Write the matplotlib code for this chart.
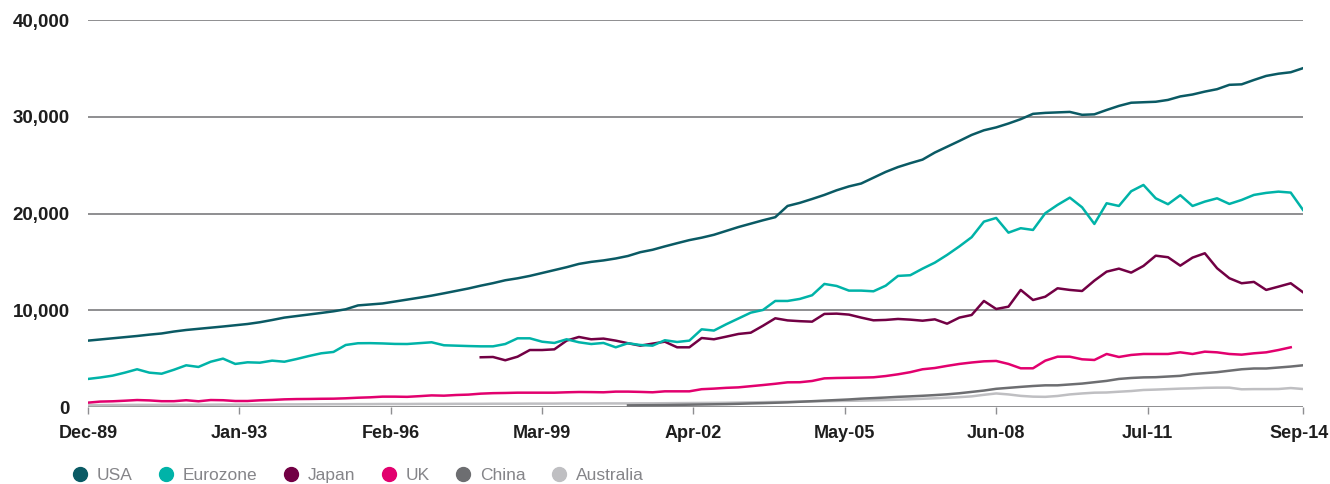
import numpy as np
import matplotlib.pyplot as plt
from matplotlib.lines import Line2D
from matplotlib.transforms import ScaledTranslation

# quarterly values, Dec-89 .. Sep-14 (100 quarters)
usa = [6860, 6980, 7100, 7220,
       7340, 7480, 7600, 7800,
       7960, 8080, 8200, 8320,
       8450, 8580, 8760, 8990,
       9240, 9400, 9560, 9720,
       9890, 10100, 10500, 10600,
       10700, 10900, 11100, 11300,
       11510, 11750, 12000, 12250,
       12540, 12800, 13100, 13300,
       13550, 13850, 14150, 14450,
       14790, 15000, 15150, 15350,
       15610, 16000, 16250, 16600,
       16930, 17250, 17500, 17800,
       18200, 18600, 18950, 19300,
       19620, 20780, 21100, 21500,
       21920, 22400, 22800, 23100,
       23700, 24300, 24800, 25200,
       25570, 26300, 26900, 27500,
       28120, 28600, 28900, 29300,
       29750, 30300, 30400, 30450,
       30500, 30200, 30250, 30700,
       31120, 31450, 31500, 31550,
       31740, 32100, 32300, 32600,
       32850, 33300, 33350, 33800,
       34220, 34450, 34600, 35020]

eurozone = [2900, 3050, 3240, 3550, 3900, 3550, 3440, 3850, 4310, 4140,
            4680, 5000, 4450, 4620, 4580, 4790, 4680, 4960, 5270, 5550,
            5690, 6410, 6590, 6600, 6570, 6520, 6510, 6600, 6690, 6380,
            6340, 6300, 6270, 6270, 6510, 7100, 7100, 6750, 6620, 7000,
            6690, 6510, 6620, 6170, 6590, 6410, 6340, 6900, 6720, 6860,
            8030, 7900, 8550, 9150, 9750, 10030, 10960, 10960, 11170, 11550,
            12720, 12510, 12030, 12030, 11960, 12540, 13550, 13620, 14300, 14920,
            15720, 16600, 17550, 19160, 19540, 18020, 18480, 18300, 20030, 20890,
            21640, 20640, 18920, 21060, 20780, 22300, 22950, 21570, 20960, 21890,
            20780, 21230, 21570, 20990, 21400, 21920, 22130, 22260, 22160, 20370]

japan = [np.nan] * 32 + [
    5140, 5170, 4830, 5200, 5890, 5890, 5960, 6860, 7240, 7000,
    7070, 6860, 6590, 6340, 6550, 6750, 6170, 6170, 7130, 7000,
    7270, 7550, 7680, 8400, 9170, 8950, 8870, 8820, 9620, 9650,
    9550, 9240, 8960, 9000, 9100, 9030, 8920, 9060, 8610, 9240,
    9510, 10960, 10130, 10370, 12100, 11060, 11400, 12270, 12100, 11990,
    13060, 13990, 14300, 13890, 14580, 15640, 15480, 14610, 15440, 15890,
    14340, 13310, 12790, 12930, 12100, 12440, 12790, 11860]

uk = [450, 560, 590, 650, 720, 680, 600, 600, 700, 590,
      720, 700, 620, 620, 690, 730, 790, 820, 830, 850,
      860, 900, 960, 1000, 1070, 1070, 1050, 1120, 1200, 1170,
      1240, 1280, 1380, 1430, 1450, 1480, 1480, 1480, 1480, 1520,
      1550, 1540, 1520, 1590, 1590, 1560, 1520, 1620, 1620, 1620,
      1840, 1900, 1980, 2030, 2150, 2270, 2400, 2550, 2560, 2690,
      2960, 3000, 3020, 3040, 3070, 3200, 3380, 3600, 3900, 4030,
      4250, 4450, 4600, 4720, 4760, 4450, 4000, 4000, 4790, 5200,
      5200, 4930, 4860, 5480, 5170, 5380, 5480, 5480, 5480, 5650,
      5480, 5720, 5650, 5480, 5410, 5550, 5650, 5890, 6170, np.nan]

china = [np.nan] * 44 + [
    170, 180, 190, 200, 220, 240, 260, 280, 300, 330,
    370, 400, 440, 480, 540, 600, 660, 720, 780, 860,
    920, 980, 1050, 1100, 1160, 1230, 1310, 1420, 1560, 1700,
    1880, 1980, 2080, 2170, 2240, 2240, 2330, 2420, 2560, 2700,
    2900, 3000, 3060, 3080, 3150, 3220, 3400, 3500, 3600, 3750,
    3900, 3980, 3980, 4080, 4180, 4310]

australia = [200, 200, 210, 210, 220, 220, 220, 230, 230, 240,
             240, 250, 250, 250, 260, 260, 270, 270, 280, 280,
             290, 290, 300, 300, 310, 310, 310, 320, 320, 320,
             330, 330, 330, 340, 340, 340, 350, 350, 350, 360,
             360, 360, 370, 370, 370, 380, 380, 390, 400, 410,
             420, 430, 440, 460, 480, 500, 520, 540, 560, 580,
             600, 620, 640, 660, 690, 720, 760, 800, 850, 900,
             960, 1020, 1100, 1260, 1400, 1300, 1150, 1070, 1050, 1140,
             1300, 1400, 1480, 1500, 1580, 1650, 1760, 1800, 1850, 1900,
             1930, 1980, 2000, 2000, 1830, 1850, 1850, 1860, 1960, 1860]

tick_labels = ["Dec-89", "Jan-93", "Feb-96", "Mar-99", "Apr-02",
               "May-05", "Jun-08", "Jul-11", "Sep-14"]
tick_months = [0, 37, 74, 111, 148, 185, 222, 259, 297]

names = ["USA", "Eurozone", "Japan", "UK", "China", "Australia"]
colors = ["#0a5a64", "#00b3a8", "#720044", "#e2006e", "#6d6e71", "#bfbfc2"]
series = [usa, eurozone, japan, uk, china, australia]

months = np.arange(len(usa)) * 3

plt.rcParams['font.family'] = ['Liberation Sans', 'DejaVu Sans']

fig = plt.figure(figsize=(13.3, 4.84), dpi=100)
ax = fig.add_axes([88 / 1330, 1 - 407 / 484, (1303 - 88) / 1330, (407 - 20) / 484])

# draw back to front so USA sits on top
for name, col, vals in reversed(list(zip(names, colors, series))):
    ax.plot(months, vals, color=col, lw=1.8, label=name, solid_joinstyle="round")

ax.set_xlim(0, 297)
ax.set_ylim(0, 40000)
ax.set_yticks([0, 10000, 20000, 30000, 40000])
ax.set_yticklabels(["0", "10,000", "20,000", "30,000", "40,000"])
ax.set_xticks(tick_months)
ax.set_xticklabels(tick_labels)

for s in ax.spines.values():
    s.set_visible(False)
ax.yaxis.grid(True, color="#8e8e91", lw=1.4)
ax.set_axisbelow(True)
ax.tick_params(axis="y", length=0, pad=13, labelsize=13.5, labelcolor="#1e1e1e")
ax.tick_params(axis="x", length=5, width=1, color="#8e8e91", pad=8,
               labelsize=13, labelcolor="#1e1e1e")
for lab in ax.get_xticklabels() + ax.get_yticklabels():
    lab.set_fontweight("bold")

# last date label sits flush with the right edge of the figure
last = ax.get_xticklabels()[-1]
last.set_transform(last.get_transform() + ScaledTranslation(-4 / 100, 0, fig.dpi_scale_trans))

handles = [Line2D([], [], marker="o", ls="", color=c, markersize=10) for c in colors]
fig.legend(handles, names, loc="center left", bbox_to_anchor=(71 / 1330, 1 - 475 / 484),
           ncol=6, frameon=False, handlelength=1.0, handletextpad=0.45,
           columnspacing=1.45, fontsize=12.5, labelcolor="#858589", borderaxespad=0,
           borderpad=0)

fig.savefig("out.png", dpi=100)
